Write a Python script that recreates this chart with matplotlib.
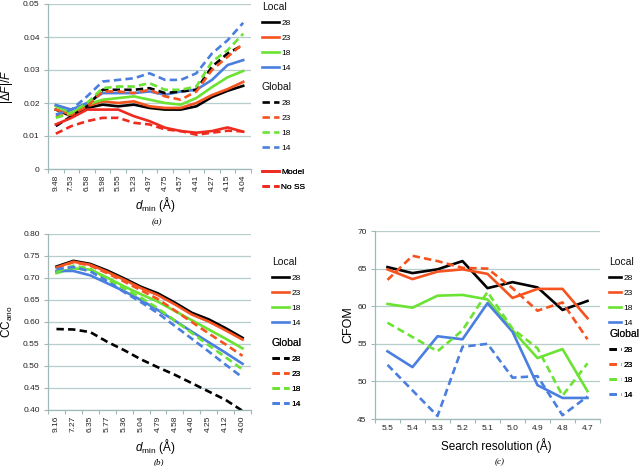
import matplotlib.pyplot as plt

plt.rcParams['font.family'] = ['Liberation Sans', 'DejaVu Sans']
plt.rcParams['mathtext.fontset'] = 'custom'
plt.rcParams['mathtext.rm'] = 'Liberation Sans'
plt.rcParams['mathtext.it'] = 'Liberation Sans:italic'

# ---- panel (a): |dF|/F vs d_min
a_dmin = ["9.48", "7.53", "6.58", "5.98", "5.55", "5.23", "4.97",
          "4.75", "4.57", "4.41", "4.27", "4.15", "4.04"]
a_local28 = [0.018, 0.016, 0.0185, 0.0195, 0.019, 0.0195, 0.0185, 0.018, 0.018, 0.019, 0.0218, 0.0237, 0.0252]
a_local23 = [0.018, 0.0165, 0.019, 0.0205, 0.020, 0.0205, 0.019, 0.0185, 0.0185, 0.020, 0.0224, 0.0242, 0.0264]
a_local18 = [0.019, 0.017, 0.0195, 0.021, 0.0215, 0.022, 0.021, 0.020, 0.0195, 0.0215, 0.0248, 0.0278, 0.0297]
a_local14 = [0.0194, 0.018, 0.020, 0.023, 0.023, 0.023, 0.0235, 0.0225, 0.0235, 0.024, 0.027, 0.0315, 0.033]
a_global28 = [0.013, 0.016, 0.019, 0.024, 0.024, 0.024, 0.0245, 0.023, 0.0235, 0.024, 0.031, 0.035, 0.0376]
a_global23 = [0.016, 0.0165, 0.019, 0.0235, 0.0235, 0.023, 0.024, 0.022, 0.021, 0.0235, 0.030, 0.034, 0.038]
a_global18 = [0.0155, 0.017, 0.020, 0.0245, 0.025, 0.025, 0.026, 0.024, 0.024, 0.025, 0.0325, 0.036, 0.041]
a_global14 = [0.0165, 0.018, 0.022, 0.0265, 0.027, 0.0275, 0.029, 0.027, 0.027, 0.029, 0.035, 0.039, 0.0443]
a_model = [0.0135, 0.0155, 0.018, 0.018, 0.018, 0.016, 0.0145, 0.0125, 0.0115, 0.011, 0.0115, 0.0126, 0.0113]
a_noss = [0.0107, 0.013, 0.0145, 0.0155, 0.0155, 0.014, 0.0135, 0.012, 0.0115, 0.0104, 0.011, 0.0116, 0.0114]
a_yticks = [0, 0.01, 0.02, 0.03, 0.04, 0.05]
a_ylabels = ["0", "0.01", "0.02", "0.03", "0.04", "0.05"]

# ---- panel (b): CC_ano vs d_min
b_dmin = ["9.16", "7.27", "6.35", "5.77", "5.36", "5.04", "4.79",
          "4.58", "4.40", "4.25", "4.12", "4.00"]
b_local28 = [0.726, 0.739, 0.732, 0.717, 0.699, 0.680, 0.665, 0.644, 0.621, 0.606, 0.586, 0.564]
b_local23 = [0.724, 0.737, 0.730, 0.714, 0.696, 0.677, 0.661, 0.640, 0.617, 0.601, 0.581, 0.560]
b_local18 = [0.711, 0.722, 0.719, 0.701, 0.681, 0.663, 0.646, 0.625, 0.604, 0.583, 0.562, 0.540]
b_local14 = [0.716, 0.716, 0.706, 0.688, 0.670, 0.650, 0.627, 0.603, 0.578, 0.554, 0.530, 0.505]
b_global28 = [0.584, 0.583, 0.577, 0.555, 0.536, 0.515, 0.497, 0.480, 0.461, 0.442, 0.423, 0.398]
b_global23 = [0.722, 0.736, 0.728, 0.711, 0.692, 0.672, 0.652, 0.626, 0.600, 0.574, 0.549, 0.523]
b_global18 = [0.714, 0.728, 0.721, 0.697, 0.676, 0.655, 0.631, 0.603, 0.575, 0.547, 0.520, 0.492]
b_global14 = [0.720, 0.725, 0.715, 0.693, 0.668, 0.645, 0.620, 0.591, 0.562, 0.533, 0.503, 0.474]
b_yticks = [0.40, 0.45, 0.50, 0.55, 0.60, 0.65, 0.70, 0.75, 0.80]

# ---- panel (c): CFOM vs search resolution
c_res = ["5.5", "5.4", "5.3", "5.2", "5.1", "5.0", "4.9", "4.8", "4.7"]
c_local28 = [65.2, 64.4, 64.9, 66.0, 62.4, 63.2, 62.5, 59.5, 60.7]
c_local23 = [64.9, 63.6, 64.6, 64.9, 64.3, 61.1, 62.3, 62.3, 58.4]
c_local18 = [60.3, 59.8, 61.4, 61.5, 60.9, 56.8, 53.1, 54.3, 48.7]
c_local14 = [54.0, 51.9, 56.0, 55.6, 60.4, 56.6, 49.5, 47.8, 47.8]
c_global28 = []  # below the plotted range, only in legend
c_global23 = [63.5, 66.7, 66.0, 65.1, 65.0, 62.4, 59.4, 60.5, 55.6]
c_global18 = [57.8, 55.9, 54.0, 56.8, 61.9, 57.0, 54.4, 48.1, 52.4]
c_global14 = [52.2, 48.8, 45.4, 54.6, 55.0, 50.5, 50.7, 45.5, 48.0]
c_yticks = [45, 50, 55, 60, 65, 70]

BLACK = "#000000"
ORANGE = "#f5531f"
GREEN = "#6ae332"
BLUE = "#4a7fe0"
RED = "#ef2a1f"
GRID = "#b7cdcc"
SPINE = "#9fb8b8"
LW = 1.9
DASH = (2.8, 1.6)

W, H = 640, 466
fig = plt.figure(figsize=(6.4, 4.66), dpi=100)


def px_axes(l, t, r, b):
    return fig.add_axes([l / W, 1 - b / H, (r - l) / W, (b - t) / H])


def style(ax, cats, yticks, ylabels, rot):
    n = len(cats)
    ax.set_xlim(-0.5, n - 0.5)
    ax.set_xticks(range(n))
    ax.set_xticklabels(cats, rotation=rot, fontsize=6, color="#222222")
    ax.set_xticks([i - 0.5 for i in range(n + 1)], minor=True)
    ax.tick_params(axis="x", which="major", length=0, pad=4)
    ax.tick_params(axis="x", which="minor", length=3, color=SPINE, width=0.8)
    ax.set_yticks(yticks)
    ax.set_yticklabels(ylabels, fontsize=6, color="#222222")
    ax.set_ylim(yticks[0], yticks[-1])
    ax.tick_params(axis="y", length=3, color=SPINE, width=0.8, pad=3)
    ax.grid(axis="y", color=GRID, lw=0.9)
    ax.set_axisbelow(True)
    for s in ["top", "right"]:
        ax.spines[s].set_visible(False)
    for s in ["left", "bottom"]:
        ax.spines[s].set_color(SPINE)
        ax.spines[s].set_linewidth(0.9)


def line(ax, y, color, dashed=False):
    x = range(len(y))
    if dashed:
        return ax.plot(x, y, color=color, lw=LW, dashes=DASH, solid_capstyle="butt")[0]
    return ax.plot(x, y, color=color, lw=LW)[0]


def legend(ax, handles, labels, x, y, title=None, hl=2.0):
    leg = ax.legend(handles, labels, title=title, loc="upper left",
                    bbox_to_anchor=(x / W, 1 - y / H), bbox_transform=fig.transFigure,
                    frameon=False, borderpad=0, borderaxespad=0, fontsize=6,
                    title_fontsize=7.5, alignment="left", handlelength=hl,
                    handletextpad=0.3, labelspacing=0.85)
    leg.get_title().set_color("#111111")
    ax.add_artist(leg)


def ylabel_at(ax, text, right_px, size):
    # right edge of the rotated label, in figure pixels
    l = ax.get_position().x0 * W
    w = ax.get_position().width * W
    ax.set_ylabel(text, fontsize=size)
    ax.yaxis.set_label_coords((right_px - l) / w, 0.5)


nums = ["28", "23", "18", "14"]

# ---------------- (a)
axa = px_axes(48, 4, 251, 169)
style(axa, a_dmin, a_yticks, a_ylabels, 90)
la = [line(axa, a_local28, BLACK), line(axa, a_local23, ORANGE),
      line(axa, a_local18, GREEN), line(axa, a_local14, BLUE)]
ga = [line(axa, a_global28, BLACK, True), line(axa, a_global23, ORANGE, True),
      line(axa, a_global18, GREEN, True), line(axa, a_global14, BLUE, True)]
ma = [line(axa, a_model, RED), line(axa, a_noss, RED, True)]
axa.set_xlabel(r"$d_{\mathrm{min}}$ (Å)", fontsize=8.5)
axa.xaxis.set_label_coords(0.53, -0.16)
ylabel_at(axa, r"$|\mathrm{\Delta}F|/F$", 15, 8.5)
legend(axa, la, nums, 262, 2, "Local")
legend(axa, ga, nums, 262, 82, "Global")
legend(axa, ma, ["Model", "No SS"], 262, 168)
fig.text(157 / W, 1 - 222 / H, "(a)", fontsize=6.5, family="Liberation Serif",
         style="italic", ha="center", va="center")

# ---------------- (b)
axb = px_axes(48, 234, 251, 410)
style(axb, b_dmin, b_yticks, ["%.2f" % v for v in b_yticks], 90)
lb = [line(axb, b_local28, BLACK), line(axb, b_local23, ORANGE),
      line(axb, b_local18, GREEN), line(axb, b_local14, BLUE)]
gb = [line(axb, b_global28, BLACK, True), line(axb, b_global23, ORANGE, True),
      line(axb, b_global18, GREEN, True), line(axb, b_global14, BLUE, True)]
axb.set_xlabel(r"$d_{\mathrm{min}}$ (Å)", fontsize=8.5)
axb.xaxis.set_label_coords(0.53, -0.155)
ylabel_at(axb, r"CC$_{\mathrm{ano}}$", 15, 8.5)
legend(axb, lb, nums, 272, 257, "Local", hl=2.0)
legend(axb, gb, nums, 272, 338, "Global", hl=2.0)
fig.text(159 / W, 1 - 462 / H, "(b)", fontsize=6.5, family="Liberation Serif",
         style="italic", ha="center", va="center")

# ---------------- (c)
axc = px_axes(375, 231, 600, 419)
style(axc, c_res, c_yticks, [str(v) for v in c_yticks], 0)
lc = [line(axc, c_local28, BLACK), line(axc, c_local23, ORANGE),
      line(axc, c_local18, GREEN), line(axc, c_local14, BLUE)]
gc = [line(axc, c_global28, BLACK, True), line(axc, c_global23, ORANGE, True),
      line(axc, c_global18, GREEN, True), line(axc, c_global14, BLUE, True)]
axc.set_xlabel("Search resolution (Å)", fontsize=8.5)
axc.xaxis.set_label_coords(0.54, -0.1)
ylabel_at(axc, "CFOM", 354, 9)
legend(axc, lc, nums, 609, 257, "Local", hl=1.4)
legend(axc, gc, nums, 609, 329, "Global", hl=1.4)
fig.text(500 / W, 1 - 462 / H, "(c)", fontsize=6.5, family="Liberation Serif",
         style="italic", ha="center", va="center")

fig.savefig("out.png", dpi=100)
